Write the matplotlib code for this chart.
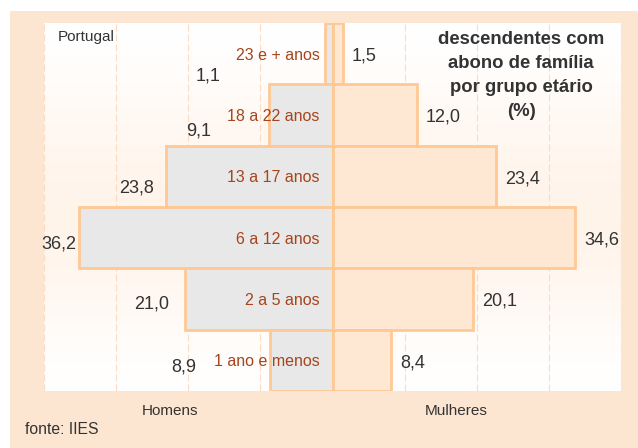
import matplotlib
matplotlib.use("Agg")
import matplotlib.pyplot as plt
import numpy as np
from matplotlib.patches import Rectangle

plt.rcParams['font.family'] = ['Liberation Sans', 'DejaVu Sans']

# dados
faixas = ["23 e + anos", "18 a 22 anos", "13 a 17 anos",
          "6 a 12 anos", "2 a 5 anos", "1 ano e menos"]
homens = [1.1, 9.1, 23.8, 36.2, 21.0, 8.9]
mulheres = [1.5, 12.0, 23.4, 34.6, 20.1, 8.4]

# posicao dos rotulos do lado esquerdo (layout)
hom_lbl_x = [-16.0, -17.4, -25.5, -36.6, -23.4, -19.4]
hom_lbl_dy = [0.44, 0.33, 0.26, 0.18, 0.15, 0.18]

W, H = 638, 448
fig = plt.figure(figsize=(W / 100, H / 100), dpi=100)
fig.patch.set_facecolor('white')
fig.patches.append(Rectangle((10 / W, 0), 1, 1 - 11 / H, transform=fig.transFigure,
                             facecolor='#FDE6D1', edgecolor='none', zorder=-5))

ax = fig.add_axes([44 / W, 1 - 391 / H, (621 - 44) / W, (391 - 23) / H])
ax.set_zorder(2)
L = 41.2

# fundo com gradiente suave
grad = np.array([0.0, 0.5, 0.9, 1.0, 0.6, 0.0]).reshape(-1, 1)
c0 = np.array([1.0, 1.0, 1.0])
c1 = np.array([1.0, 0.955, 0.915])
img = c0 + grad[..., None] * (c1 - c0)
ax.imshow(img, extent=[-L, L, 5.5, -0.5], aspect='auto', zorder=0,
          interpolation='bicubic')
ax.set_xlim(-L, L)
ax.set_ylim(5.5, -0.5)

ax.set_xticks(np.linspace(-L, L, 9))
ax.set_yticks([])
ax.set_axisbelow(True)
ax.grid(axis='x', color='#FBDCC2', linestyle=(0, (6.3, 2.7)), linewidth=0.8)
ax.tick_params(length=0, labelbottom=False)
for s in ax.spines.values():
    s.set_visible(False)

y = np.arange(len(faixas))
edge = '#FFC894'
ax.barh(y, [-v for v in homens], height=1.0, color='#E8E8E8', edgecolor=edge,
        linewidth=2, zorder=2)
ax.barh(y, mulheres, height=1.0, color='#FEE7D3', edgecolor=edge,
        linewidth=2, zorder=2)

for i, f in enumerate(faixas):
    ax.text(-1.85, i + 0.1, f, ha='right', va='baseline', fontsize=11.5,
            color='#A6441C', zorder=3)
    ax.text(hom_lbl_x[i], i + hom_lbl_dy[i], f"{homens[i]:.1f}".replace('.', ','),
            ha='right', va='baseline', fontsize=13, color='#333333', zorder=3)
    ax.text(mulheres[i] + 1.3, i + 0.11, f"{mulheres[i]:.1f}".replace('.', ','),
            ha='left', va='baseline', fontsize=13, color='#333333', zorder=3)

fig.text(58 / W, 1 - 41 / H, "Portugal", fontsize=11, color='#333333',
         ha='left', va='baseline', zorder=5)

titulo = ["descendentes com", "abono de família", "por grupo etário", "(%)"]
for k, t in enumerate(titulo):
    fig.text(521 / W, 1 - (44 + 24 * k) / H, t, fontsize=13.3, fontweight='bold',
             color='#333333', ha='center', va='baseline', zorder=5)

fig.text(170 / W, 1 - 415 / H, "Homens", fontsize=11, color='#333333',
         ha='center', va='baseline')
fig.text(456 / W, 1 - 415 / H, "Mulheres", fontsize=11, color='#333333',
         ha='center', va='baseline')
fig.text(25 / W, 1 - 434 / H, "fonte: IIES", fontsize=11.3, color='#333333',
         ha='left', va='baseline')

fig.savefig('out.png', dpi=100, facecolor=fig.get_facecolor())
